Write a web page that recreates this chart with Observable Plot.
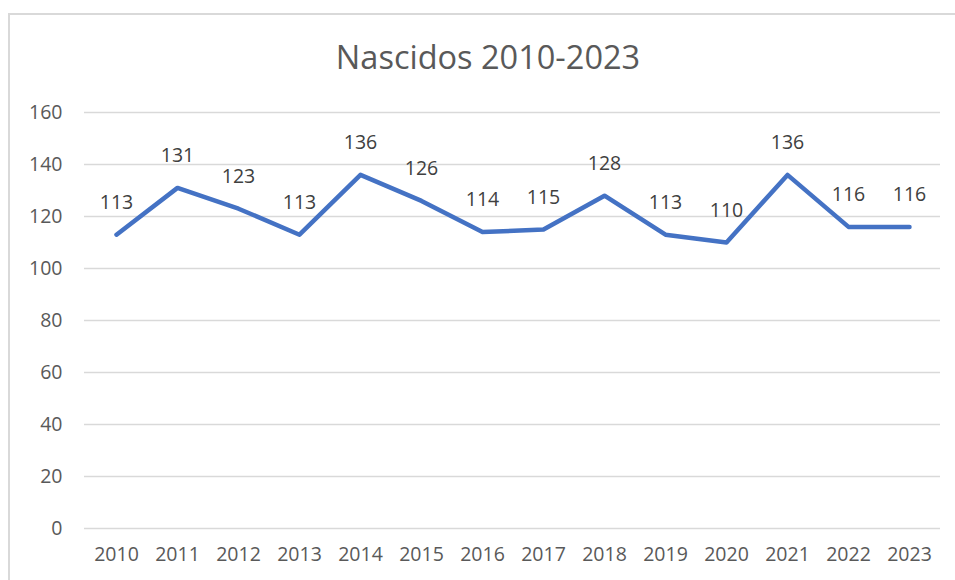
<!DOCTYPE html>
<html>
<head>
<meta charset="utf-8">
<script src="https://cdn.jsdelivr.net/npm/d3@7"></script>
<script src="https://cdn.jsdelivr.net/npm/@observablehq/plot@0.6"></script>
<style>
  html, body { margin: 0; padding: 0; background: #fff; }
  #wrap { position: relative; width: 955px; height: 580px; overflow: hidden; background: #fff; }
  #frame { position: absolute; left: 8px; top: 13px; width: 970px; height: 620px; border: 2px solid #d9d9d9; box-sizing: border-box; }
  #title { position: absolute; left: 21px; top: 0; width: 934px; height: 90px; text-align: center;
           font-family: "Open Sans", sans-serif; font-size: 32.5px; color: #595959; line-height: 114px; }
  #chart { position: absolute; left: 0; top: 90px; }
</style>
</head>
<body>
<div id="wrap">
  <div id="frame"></div>
  <div id="title">Nascidos 2010-2023</div>
  <div id="chart"></div>
</div>
<script>
const years = ["2010","2011","2012","2013","2014","2015","2016","2017","2018","2019","2020","2021","2022","2023"];
const births = [113,131,123,113,136,126,114,115,128,113,110,136,116,116];
const yTicks = [0,20,40,60,80,100,120,140,160];

const data = years.map((y, i) => ({year: y, value: births[i]}));

const plot = Plot.plot({
  width: 955,
  height: 490,
  marginTop: 22,
  marginBottom: 52,
  marginLeft: 84,
  marginRight: 15,
  style: {fontFamily: "'Open Sans', sans-serif", fontSize: "19.5px", color: "#595959", background: "transparent"},
  x: {type: "point", domain: years, padding: 0.5, label: null},
  y: {domain: [0, 160], ticks: yTicks, label: null},
  marks: [
    Plot.ruleY(yTicks, {stroke: "#d9d9d9", strokeWidth: 1.5}),
    Plot.axisX({tickSize: 0, tickPadding: 19, label: null, fill: "#595959"}),
    Plot.axisY(yTicks, {tickSize: 0, tickPadding: 22, label: null, fill: "#595959"}),
    Plot.line(data, {x: "year", y: "value", stroke: "#4472C4", strokeWidth: 4.5, strokeLinejoin: "round", strokeLinecap: "round"}),
    Plot.text(data, {x: "year", y: "value", text: d => String(d.value), dy: -32, fill: "#404040", fontSize: 19.5})
  ]
});
document.getElementById("chart").appendChild(plot);
</script>
</body>
</html>
